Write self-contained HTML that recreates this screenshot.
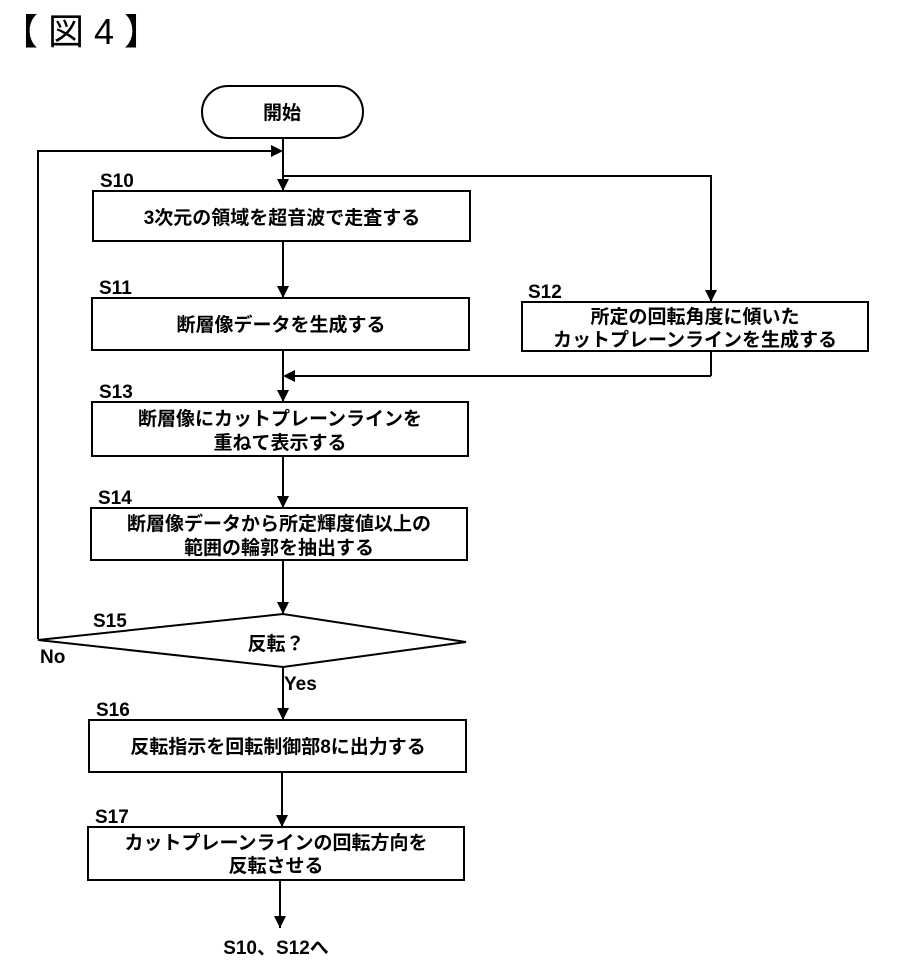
<!DOCTYPE html>
<html><head><meta charset="utf-8"><style>
body{margin:0;background:#fff;}
svg text{font-family:"Liberation Sans","Noto Sans CJK JP",sans-serif;fill:#000;}
.t{font-size:19px;font-weight:bold;}
.l{font-size:19px;font-weight:bold;}
</style></head><body>
<svg width="902" height="958" viewBox="0 0 902 958" xmlns="http://www.w3.org/2000/svg">
<text x="2" y="44" style="font-size:36px">【 図 4 】</text>
<g fill="none" stroke="#000" stroke-width="2">
<rect x="202" y="86" width="161" height="52" rx="26" fill="#fff"/>
<rect x="93" y="191" width="377" height="50"/>
<rect x="92" y="298" width="377" height="52"/>
<rect x="522" y="302" width="346" height="49"/>
<rect x="92" y="402" width="376" height="54"/>
<rect x="91" y="508" width="376" height="52"/>
<polygon points="38,640 283,614 466,642 283,667"/>
<rect x="89" y="720" width="377" height="52"/>
<rect x="88" y="827" width="376" height="53"/>
<line x1="283" y1="138" x2="283" y2="191"/>
<line x1="283" y1="241" x2="283" y2="298"/>
<line x1="283" y1="350" x2="283" y2="402"/>
<line x1="283" y1="456" x2="283" y2="508"/>
<line x1="283" y1="560" x2="283" y2="614"/>
<polyline points="38,639 38,151 276,151"/>
<polyline points="283,176 711,176 711,302"/>
<line x1="711" y1="351" x2="711" y2="376"/>
<line x1="711" y1="376" x2="290" y2="376"/>
<line x1="283" y1="667" x2="283" y2="720"/>
<line x1="282" y1="772" x2="282" y2="827"/>
<line x1="280" y1="880" x2="280" y2="928"/>
</g>
<g fill="#000">
<path d="M271,145 L283,151 L271,157 z"/>
<path d="M295,370 L283,376 L295,382 z"/>
<path d="M277,179 L289,179 L283,191 z"/>
<path d="M277,286 L289,286 L283,298 z"/>
<path d="M705,290 L717,290 L711,302 z"/>
<path d="M277,390 L289,390 L283,402 z"/>
<path d="M277,496 L289,496 L283,508 z"/>
<path d="M277,602 L289,602 L283,614 z"/>
<path d="M277,708 L289,708 L283,720 z"/>
<path d="M276,815 L288,815 L282,827 z"/>
<path d="M274,916 L286,916 L280,928 z"/>
</g>
<text class="t" x="282" y="119" text-anchor="middle">開始</text>
<text class="l" x="100" y="187">S10</text>
<text class="t" x="282" y="224" text-anchor="middle">3次元の領域を超音波で走査する</text>
<text class="l" x="99" y="294">S11</text>
<text class="t" x="281" y="331" text-anchor="middle">断層像データを生成する</text>
<text class="l" x="528" y="298">S12</text>
<text class="t" x="695" y="323" text-anchor="middle">所定の回転角度に傾いた</text>
<text class="t" x="695" y="346" text-anchor="middle">カットプレーンラインを生成する</text>
<text class="l" x="99" y="398">S13</text>
<text class="t" x="280" y="425" text-anchor="middle">断層像にカットプレーンラインを</text>
<text class="t" x="280" y="449" text-anchor="middle">重ねて表示する</text>
<text class="l" x="98" y="504">S14</text>
<text class="t" x="279" y="530" text-anchor="middle">断層像データから所定輝度値以上の</text>
<text class="t" x="279" y="554" text-anchor="middle">範囲の輪郭を抽出する</text>
<text class="l" x="93" y="627">S15</text>
<text class="t" x="276" y="650" text-anchor="middle">反転？</text>
<text class="l" x="40" y="663">No</text>
<text class="l" x="284" y="690">Yes</text>
<text class="l" x="96" y="716">S16</text>
<text class="t" x="278" y="753" text-anchor="middle">反転指示を回転制御部8に出力する</text>
<text class="l" x="95" y="823">S17</text>
<text class="t" x="276" y="849" text-anchor="middle">カットプレーンラインの回転方向を</text>
<text class="t" x="276" y="872" text-anchor="middle">反転させる</text>
<text class="l" x="276" y="954" text-anchor="middle">S10、S12へ</text>
</svg>
</body></html>
